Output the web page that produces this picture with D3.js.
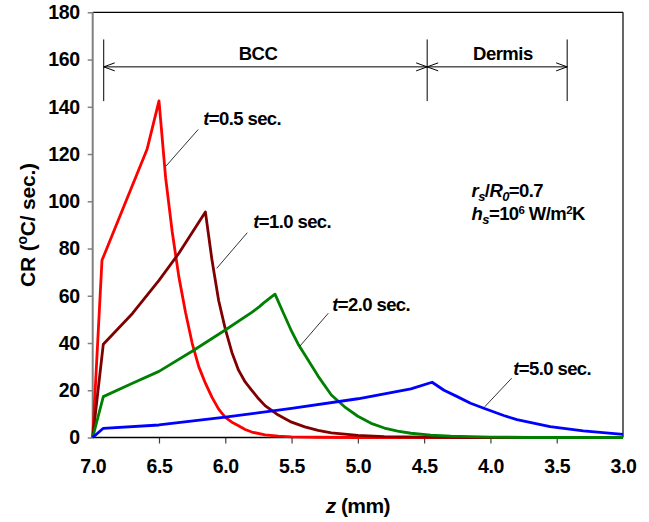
<!DOCTYPE html>
<html>
<head>
<meta charset="utf-8">
<script src="https://cdn.jsdelivr.net/npm/d3@7"></script>
<style>
  html, body { margin: 0; padding: 0; background: #fff; }
  text { font-family: "Liberation Sans", Arial, sans-serif; font-weight: bold; fill: #000; }
</style>
</head>
<body>
<svg id="chart" width="649" height="522"></svg>
<script>
// ---- data ----
const xTicks = [7.0, 6.5, 6.0, 5.5, 5.0, 4.5, 4.0, 3.5, 3.0];
const yTicks = [0, 20, 40, 60, 80, 100, 120, 140, 160, 180];

const zT05 = [7.0, 6.93, 6.59, 6.50, 6.45, 6.40, 6.35, 6.30, 6.25, 6.20, 6.15, 6.10, 6.05, 6.00, 5.95, 5.90, 5.85, 5.80, 5.70, 5.60, 5.50, 5.30, 5.00, 4.50, 4.00, 3.50, 3.00];
const crT05 = [0, 75, 122, 142.5, 110, 87, 68, 53, 40, 30, 23, 17, 12, 8.5, 6.5, 5.0, 3.4, 2.3, 1.1, 0.6, 0.3, 0.1, 0, 0, 0, 0, 0];

const zT10 = [7.0, 6.92, 6.70, 6.50, 6.35, 6.15, 6.10, 6.05, 6.00, 5.95, 5.90, 5.85, 5.80, 5.75, 5.70, 5.60, 5.50, 5.40, 5.30, 5.20, 5.00, 4.80, 4.50, 4.20, 3.50, 3.00];
const crT10 = [0, 39.5, 52.5, 66.5, 78, 95.5, 75, 58, 46, 36, 28.5, 23.5, 20, 16.5, 13.5, 9.5, 6.5, 4.5, 3, 2, 0.9, 0.4, 0.15, 0, 0, 0];

const zT20 = [7.0, 6.92, 6.70, 6.50, 6.25, 6.00, 5.80, 5.74, 5.71, 5.625, 5.56, 5.50, 5.45, 5.40, 5.30, 5.20, 5.10, 5.00, 4.90, 4.80, 4.70, 4.60, 4.45, 4.30, 4.00, 3.70, 3.00];
const crT20 = [0, 17.3, 23, 28, 36.5, 45.5, 53, 55.5, 57, 60.7, 52.5, 45, 39.5, 35, 26, 18, 13, 9, 6, 4, 2.7, 1.8, 1.0, 0.6, 0.2, 0, 0];

const zT50 = [7.0, 6.92, 6.50, 6.00, 5.50, 5.00, 4.60, 4.44, 4.35, 4.25, 4.15, 4.05, 3.90, 3.80, 3.55, 3.30, 3.00];
const crT50 = [0, 3.9, 5.3, 8.6, 12.3, 16.4, 20.6, 23.4, 20, 17.3, 14.5, 12.4, 9.3, 7.6, 4.6, 2.8, 1.3];

const seriesNames = ["0.5", "1.0", "2.0", "5.0"];
const seriesColors = ["#ff0000", "#800000", "#008000", "#0000ff"];
// label anchor (z, CR) and leader line start/end (z, CR)
const labelZ = [6.166, 5.789, 5.193, 3.828];
const labelCR = [132.3, 88.5, 53.7, 26.3];
const leaderFromZ = [6.204, 5.834, 5.223, 3.840];
const leaderFromCR = [130.4, 86.7, 52.6, 25.1];
const leaderToZ = [6.447, 6.065, 5.437, 4.043];
const leaderToCR = [114.9, 71.6, 38.7, 13.0];

// region markers
const regionNames = ["BCC", "Dermis"];
const regionBounds = [6.917, 4.477, 3.421];
const regionLabelZ = [5.753, 3.906];

// ---- layout ----
const svg = d3.select("#chart");
const x = d3.scaleLinear().domain([7, 3]).range([92.7, 623]);
const y = d3.scaleLinear().domain([0, 180]).range([437.5, 12.3]);

const series = [
  zT05.map((z, i) => ({ z, v: crT05[i] })),
  zT10.map((z, i) => ({ z, v: crT10[i] })),
  zT20.map((z, i) => ({ z, v: crT20[i] })),
  zT50.map((z, i) => ({ z, v: crT50[i] }))
];

// axes
const yAxis = d3.axisLeft(y).tickValues(yTicks).tickSize(5).tickPadding(8).tickFormat(d3.format("d"));
const gy = svg.append("g").attr("transform", `translate(${x(7)},0)`).call(yAxis);
gy.select(".domain").remove();
gy.selectAll(".tick line").attr("stroke", "#808080").attr("stroke-width", 1.5);
gy.selectAll(".tick text").style("font-size", "19.5px").style("letter-spacing", "-0.4px");

const xAxis = d3.axisBottom(x).tickValues(xTicks).tickSize(6).tickPadding(15.5).tickFormat(d3.format(".1f"));
const gx = svg.append("g").attr("transform", `translate(0,${y(0)})`).call(xAxis);
gx.select(".domain").remove();
gx.selectAll(".tick line").attr("stroke", "#404040").attr("stroke-width", 1.2)
  .filter(d => d === 7.0 || d === 3.0).remove();
gx.selectAll(".tick text").style("font-size", "19.5px").style("letter-spacing", "-0.4px");

// frame
svg.append("line").attr("x1", x(7)).attr("x2", x(3)).attr("y1", y(180)).attr("y2", y(180))
  .attr("stroke", "#000").attr("stroke-width", 1.2);
svg.append("line").attr("x1", x(3)).attr("x2", x(3)).attr("y1", y(180)).attr("y2", y(0))
  .attr("stroke", "#000").attr("stroke-width", 1.2);
svg.append("line").attr("x1", x(7)).attr("x2", x(3)).attr("y1", y(0)).attr("y2", y(0))
  .attr("stroke", "#000").attr("stroke-width", 1.3);
svg.append("line").attr("x1", x(7)).attr("x2", x(7)).attr("y1", y(180)).attr("y2", y(0))
  .attr("stroke", "#808080").attr("stroke-width", 2);

// curves
const line = d3.line().x(d => x(d.z)).y(d => y(d.v));
series.forEach((s, i) => {
  svg.append("path").datum(s).attr("d", line)
    .attr("fill", "none").attr("stroke", seriesColors[i])
    .attr("stroke-width", 2.8).attr("stroke-linejoin", "round");
});

// leader lines and labels
seriesNames.forEach((name, i) => {
  svg.append("line")
    .attr("x1", x(leaderFromZ[i])).attr("y1", y(leaderFromCR[i]))
    .attr("x2", x(leaderToZ[i])).attr("y2", y(leaderToCR[i]))
    .attr("stroke", "#000").attr("stroke-width", 0.8);
  const t = svg.append("text").attr("x", x(labelZ[i])).attr("y", y(labelCR[i]))
    .style("font-size", "18.5px").style("letter-spacing", "-0.6px");
  t.append("tspan").style("font-style", "italic").text("t");
  t.append("tspan").text("=" + name + " sec.");
});

// region markers on top
const yTopBar = 168.5, yBotBar = 142.4, yArrow = 156.9;
regionBounds.forEach(b => {
  svg.append("line").attr("x1", x(b)).attr("x2", x(b)).attr("y1", y(yTopBar)).attr("y2", y(yBotBar))
    .attr("stroke", "#000").attr("stroke-width", 1);
});
for (let i = 0; i < regionNames.length; i++) {
  const xa = x(regionBounds[i]), xb = x(regionBounds[i + 1]), ya = y(yArrow);
  svg.append("line").attr("x1", xa).attr("x2", xb).attr("y1", ya).attr("y2", ya)
    .attr("stroke", "#000").attr("stroke-width", 1);
  svg.append("path").attr("d", `M${xa + 11},${ya - 4}L${xa},${ya}L${xa + 11},${ya + 4}`)
    .attr("fill", "none").attr("stroke", "#000").attr("stroke-width", 1);
  svg.append("path").attr("d", `M${xb - 11},${ya - 4}L${xb},${ya}L${xb - 11},${ya + 4}`)
    .attr("fill", "none").attr("stroke", "#000").attr("stroke-width", 1);
  svg.append("text").attr("x", x(regionLabelZ[i])).attr("y", ya - 6.5)
    .attr("text-anchor", "middle").style("font-size", "18.5px").style("letter-spacing", "-0.5px")
    .text(regionNames[i]);
}

// parameter text
const px = x(4.142);
const t1 = svg.append("text").attr("x", px).attr("y", y(101.9)).style("font-size", "18.5px").style("letter-spacing", "-0.6px");
t1.append("tspan").style("font-style", "italic").text("r");
t1.append("tspan").style("font-style", "italic").style("font-size", "13px").attr("dy", 4).text("s");
t1.append("tspan").attr("dy", -4).text("/");
t1.append("tspan").style("font-style", "italic").text("R");
t1.append("tspan").style("font-style", "italic").style("font-size", "13px").attr("dy", 4).text("0");
t1.append("tspan").attr("dy", -4).text("=0.7");

const t2 = svg.append("text").attr("x", px).attr("y", y(92.1)).style("font-size", "18.5px").style("letter-spacing", "-0.6px");
t2.append("tspan").style("font-style", "italic").text("h");
t2.append("tspan").style("font-style", "italic").style("font-size", "13px").attr("dy", 4).text("s");
t2.append("tspan").attr("dy", -4).text("=10");
t2.append("tspan").style("font-size", "11.5px").attr("dy", -6).text("6");
t2.append("tspan").attr("dy", 6).text(" W/m");
t2.append("tspan").style("font-size", "11.5px").attr("dy", -6).text("2");
t2.append("tspan").attr("dy", 6).text("K");

// axis titles
const xt = svg.append("text").attr("x", (x(7) + x(3)) / 2).attr("y", 513)
  .attr("text-anchor", "middle").style("font-size", "21px").style("letter-spacing", "-0.6px");
xt.append("tspan").style("font-style", "italic").text("z");
xt.append("tspan").text(" (mm)");

const yt = svg.append("text").attr("transform", `translate(35,225) rotate(-90)`)
  .attr("text-anchor", "middle").style("font-size", "21px").style("letter-spacing", "-0.2px");
yt.append("tspan").text("CR (");
yt.append("tspan").style("font-size", "14px").attr("dy", -8).text("o");
yt.append("tspan").attr("dy", 8).text("C/ sec.)");
</script>
</body>
</html>
